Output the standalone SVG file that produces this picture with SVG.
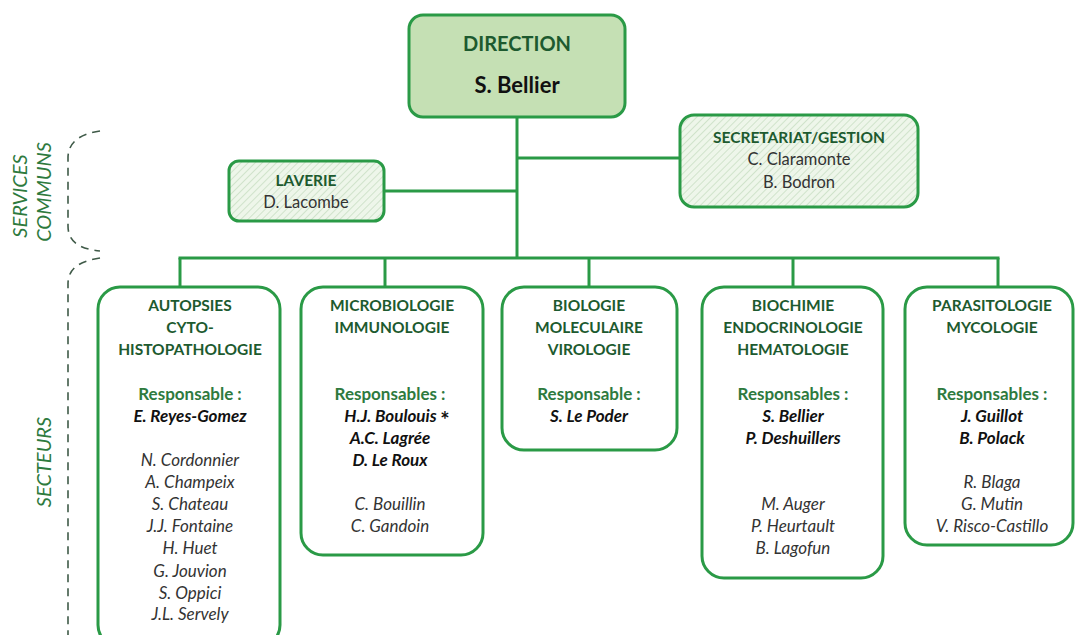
<svg xmlns="http://www.w3.org/2000/svg" width="1076" height="635" viewBox="0 0 1076 635">
<defs>
<pattern id="hatch" width="5" height="5" patternUnits="userSpaceOnUse" patternTransform="rotate(45)">
<rect width="5" height="5" fill="#eef6ea"/>
<line x1="0" y1="0" x2="0" y2="5" stroke="#c9dfc3" stroke-width="1.6"/>
</pattern>
<style>
.box{fill:#fff;stroke:#2a9a46;stroke-width:3}
.hbox{fill:url(#hatch);stroke:#2a9a46;stroke-width:3}
.conn{stroke:#2a9a46;stroke-width:3;fill:none}
.brace{stroke:#3f5a48;stroke-width:1.6;fill:none;stroke-dasharray:8 6}
text{font-family:Lato,"Open Sans","Liberation Sans",sans-serif;text-anchor:middle}
.h{font-weight:bold;fill:#1d5a2f;font-size:15.5px}
.r{font-weight:bold;fill:#2e7a3e;font-size:17px}
.b{font-weight:bold;font-style:italic;fill:#111;font-size:17px}
.n{font-style:italic;fill:#333;font-size:17px}
.s{fill:#333;font-size:16.5px}
.side{font-style:italic;fill:#2e7a3e;font-size:20px}
</style>
</defs>
<g id="connectors">
<line class="conn" x1="517" y1="117" x2="517" y2="258"/>
<line class="conn" x1="517" y1="158" x2="680" y2="158"/>
<line class="conn" x1="384" y1="191" x2="517" y2="191"/>
<line class="conn" x1="178.5" y1="258" x2="999.5" y2="258"/>
<line class="conn" x1="180" y1="258" x2="180" y2="288"/>
<line class="conn" x1="385" y1="258" x2="385" y2="288"/>
<line class="conn" x1="589" y1="258" x2="589" y2="288"/>
<line class="conn" x1="793" y1="258" x2="793" y2="288"/>
<line class="conn" x1="998" y1="258" x2="998" y2="288"/>
</g>
<g id="braces">
<path class="brace" d="M100,131 C80,134 68,142 68,158 L68,226 C68,242 80,249 100,251"/>
<path class="brace" d="M100,258 C80,261 68,268 68,284 L68,635"/>
<text class="side" transform="translate(27,196) rotate(-90)">SERVICES</text>
<text class="side" transform="translate(51,192) rotate(-90)">COMMUNS</text>
<text class="side" transform="translate(51,462) rotate(-90)">SECTEURS</text>
</g>
<g id="direction">
<rect x="409" y="15" width="216" height="102" rx="14" fill="#c5e0b4" stroke="#2a9a46" stroke-width="3"/>
<text class="h" x="517" y="51" style="font-size:20px">DIRECTION</text>
<text x="517" y="93" style="font-weight:bold;font-size:22px;fill:#111">S. Bellier</text>
</g>
<g id="secretariat">
<rect class="hbox" x="680" y="115" width="238" height="92" rx="14"/>
<text class="h" x="799" y="143">SECRETARIAT/GESTION</text>
<text class="s" x="799" y="165">C. Claramonte</text>
<text class="s" x="799" y="188">B. Bodron</text>
</g>
<g id="laverie">
<rect class="hbox" x="229" y="161" width="155" height="60" rx="10"/>
<text class="h" x="306" y="186">LAVERIE</text>
<text class="s" x="306" y="208">D. Lacombe</text>
</g>
<g id="autopsies">
<rect class="box" x="98" y="287" width="182" height="360" rx="22"/>
<text class="h" x="190" y="311">AUTOPSIES</text>
<text class="h" x="190" y="333">CYTO-</text>
<text class="h" x="190" y="355">HISTOPATHOLOGIE</text>
<text class="r" x="190" y="400">Responsable :</text>
<text class="b" x="190" y="422">E. Reyes-Gomez</text>
<text class="n" x="190" y="466">N. Cordonnier</text>
<text class="n" x="190" y="488">A. Champeix</text>
<text class="n" x="190" y="510">S. Chateau</text>
<text class="n" x="190" y="532">J.J. Fontaine</text>
<text class="n" x="190" y="554">H. Huet</text>
<text class="n" x="190" y="577">G. Jouvion</text>
<text class="n" x="190" y="599">S. Oppici</text>
<text class="n" x="190" y="620">J.L. Servely</text>
</g>
<g id="microbiologie">
<rect class="box" x="301" y="287" width="182" height="268" rx="22"/>
<text class="h" x="392" y="311">MICROBIOLOGIE</text>
<text class="h" x="392" y="333">IMMUNOLOGIE</text>
<text class="r" x="390" y="400">Responsables :</text>
<text class="b" x="397" y="422">H.J. Boulouis <tspan dy="6" style="font-style:normal;font-size:22px">*</tspan></text>
<text class="b" x="390" y="444">A.C. Lagrée</text>
<text class="b" x="390" y="466">D. Le Roux</text>
<text class="n" x="390" y="510">C. Bouillin</text>
<text class="n" x="390" y="532">C. Gandoin</text>
</g>
<g id="biologie">
<rect class="box" x="502" y="287" width="175" height="163" rx="22"/>
<text class="h" x="589" y="311">BIOLOGIE</text>
<text class="h" x="589" y="333">MOLECULAIRE</text>
<text class="h" x="589" y="355">VIROLOGIE</text>
<text class="r" x="589" y="400">Responsable :</text>
<text class="b" x="589" y="422">S. Le Poder</text>
</g>
<g id="biochimie">
<rect class="box" x="702" y="287" width="181" height="291" rx="22"/>
<text class="h" x="793" y="311">BIOCHIMIE</text>
<text class="h" x="793" y="333">ENDOCRINOLOGIE</text>
<text class="h" x="793" y="355">HEMATOLOGIE</text>
<text class="r" x="793" y="400">Responsables :</text>
<text class="b" x="793" y="422">S. Bellier</text>
<text class="b" x="793" y="444">P. Deshuillers</text>
<text class="n" x="793" y="510">M. Auger</text>
<text class="n" x="793" y="532">P. Heurtault</text>
<text class="n" x="793" y="554">B. Lagofun</text>
</g>
<g id="parasitologie">
<rect class="box" x="905" y="287" width="168" height="258" rx="22"/>
<text class="h" x="992" y="311">PARASITOLOGIE</text>
<text class="h" x="992" y="333">MYCOLOGIE</text>
<text class="r" x="992" y="400">Responsables :</text>
<text class="b" x="992" y="422">J. Guillot</text>
<text class="b" x="992" y="444">B. Polack</text>
<text class="n" x="992" y="488">R. Blaga</text>
<text class="n" x="992" y="510">G. Mutin</text>
<text class="n" x="992" y="532">V. Risco-Castillo</text>
</g>
</svg>
